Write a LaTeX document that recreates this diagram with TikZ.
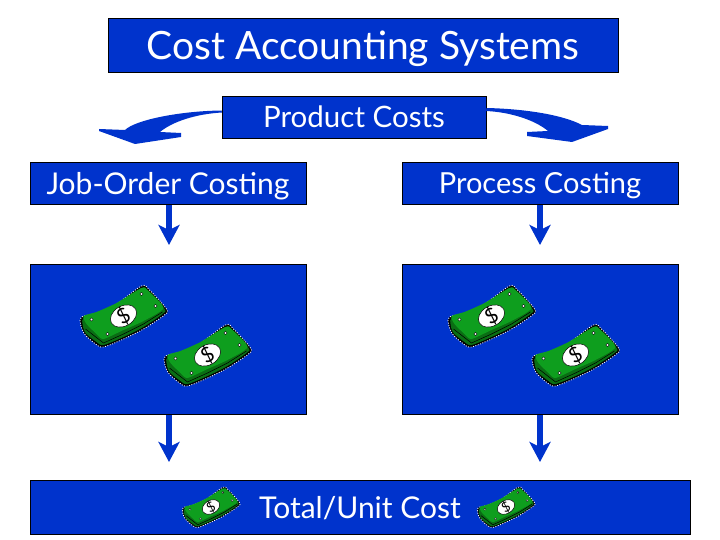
\documentclass[tikz,border=0pt]{standalone}
\usepackage{fontspec}
\setmainfont{Lato}
\usetikzlibrary{arrows.meta}
\definecolor{slideblue}{HTML}{0033CC}
\definecolor{billgreen}{HTML}{0E9E1E}
\definecolor{billdark}{HTML}{0A6E14}
\tikzset{box/.style = {draw = black, fill = slideblue, text = white, line width = 0.9pt, inner sep = 0, text depth = 0pt}}
\tikzset{down/.style = {draw = slideblue, line width = 6pt, -{Stealth[length = 20pt, width = 21pt, inset = 5pt]}, shorten <= 0.5pt}}
\tikzset{curved/.style = {fill = slideblue, draw = none}}
\tikzset{bill/.pic = {
    \draw [white, line width = 0.8pt, dash pattern = on 1pt off 1.5pt, fill = black]
      plot [smooth cycle, tension = 0.5] coordinates {(-42,1) (-27,-3) (-7,-12) (18,-30) (26,-26) (43,-7) (41,-1) (20,13) (0,23) (-20,31) (-28,28) (-39,18) (-43,8)};
    \fill [billdark]
      plot [smooth cycle, tension = 0.5] coordinates {(-40,2) (-27,-2) (-7,-11) (18,-28) (25,-25) (41,-7) (39,-2) (20,11) (0,21) (-20,29) (-27,26) (-38,17) (-41,8)};
    \fill [billgreen]
      plot [smooth cycle, tension = 0.4] coordinates {(-40,0) (-27,-4) (-7,-13) (18,-28) (25,-25) (40,-8) (20,5) (0,14) (-20,23) (-27,18) (-37,8)};
    \draw [black, line width = 0.5pt] (-38,13) -- (-20,27) -- (0,18) -- (20,8) -- (39,-4);
    \foreach \x/\y in {-32/3.5, 18/-22, 32/-10, -16/18} {
      \fill [white, draw = black, line width = 0.3pt] (\x,\y) circle (1.6);
    }
    \fill [white, draw = black, line width = 0.5pt, rotate = 30] (0,0) ellipse (14 and 10);
    \node [black, rotate = 30, transform shape, font = \fontsize{21}{21}\selectfont, inner sep = 0] (-sign) at (0,0) {\$};
  }}

\begin{document}
\begin{tikzpicture}[x = 1pt, y = -1pt]
    \useasboundingbox [fill = white] (0,0) rectangle (720,540);
    % boxes
    \node [box, minimum width = 510pt, minimum height = 54pt, font = \fontsize{39}{39}\selectfont] (title) at (363,45) {Cost Accounting Systems};
    \node [box, minimum width = 264pt, minimum height = 42pt, font = \fontsize{29.5}{30}\selectfont] (product) at (354,117) {Product Costs};
    \node [box, minimum width = 276pt, minimum height = 42pt, font = \fontsize{30}{30}\selectfont] (job) at (168,183) {Job-Order Costing};
    \node [box, minimum width = 276pt, minimum height = 42pt, font = \fontsize{29}{30}\selectfont] (process) at (540,183) {Process Costing};
    \node [box, minimum width = 276pt, minimum height = 150pt] (jobpanel) at (168,339) {};
    \node [box, minimum width = 276pt, minimum height = 150pt] (processpanel) at (540,339) {};
    \node [box, minimum width = 660pt, minimum height = 54pt, font = \fontsize{30}{30}\selectfont] (total) at (360,507) {Total/Unit Cost};
    % free ends of the arrows
    \coordinate (jobtip) at (169,245);
    \coordinate (processtip) at (540,245);
    \coordinate (jobout) at (169,462);
    \coordinate (processout) at (540,462);
    \draw [down] (job.south -| jobtip) -- (jobtip);
    \draw [down] (process.south -| processtip) -- (processtip);
    \draw [down] (jobpanel.south -| jobout) -- (jobout);
    \draw [down] (processpanel.south -| processout) -- (processout);
    % curved arrows
    \fill [curved] (product.west) ++(0,-6.5) .. controls (180,111) and (135,120) .. (125,130)
      -- (99,129) -- (99,131) -- (135,144) -- (181,137) -- (181,133) -- (160,132)
      .. controls (172,122) and (195,114) .. (222,112.5) -- cycle;
    \fill [curved] (product.east) ++(0,-9) .. controls (530,109) and (565,116) .. (582,125)
      -- (608,126) -- (608,129) -- (572,142) -- (527,136) -- (527,132) -- (548,131)
      .. controls (535,120) and (510,112) .. (486,111) -- cycle;
    % money
    \foreach \x in {0, 368} {
      \pic at (123.5+\x, 316) {bill};
      \pic at (207.5+\x, 355) {bill};
    }
    \pic [scale = 0.66] at (211,507) {bill};
    \pic [scale = 0.66] at (506,507) {bill};
  \end{tikzpicture}
\end{document}
